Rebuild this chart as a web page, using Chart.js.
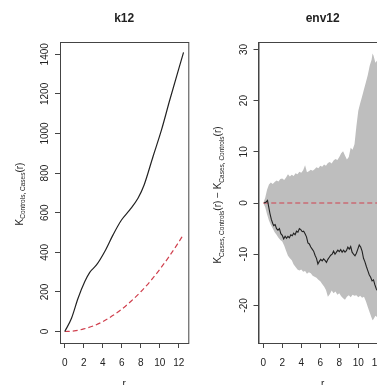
<!DOCTYPE html>
<html>
<head>
<meta charset="utf-8">
<script src="https://cdn.jsdelivr.net/npm/chart.js@4.4.1/dist/chart.umd.min.js"></script>
<style>
  html, body { margin: 0; padding: 0; background: #fff; overflow: hidden; }
  #wrap { position: relative; width: 377px; height: 385px; overflow: hidden; }
  canvas { position: absolute; top: 0; }
  #left { left: 0; }
  #right { left: 200px; }
</style>
</head>
<body>
<div id="wrap">
  <canvas id="left" width="200" height="385"></canvas>
  <canvas id="right" width="200" height="385"></canvas>
</div>
<script>
// k12: observed K and the theoretical one (dashed)
const kR = [0, 0.71, 1.40, 2.11, 2.63, 3.34, 4.21, 5.08, 5.97, 6.84, 7.72, 8.35, 9.29, 10.18, 11.05, 12.5];
const kObs = [0, 67, 168, 252, 299, 336, 404, 488, 563, 614, 674, 740, 884, 1018, 1169, 1410];
const theoR = [0, 1, 2, 3, 4, 5, 6, 7, 8, 9, 10, 11, 12, 12.5];
const theoK = [0, 3, 13, 28, 50, 79, 113, 154, 201, 254, 314, 380, 452, 491];

// env12: envelope (grey band), observed difference, zero line
const envR = [0, 0.2, 0.4, 0.6, 0.8, 1.0, 1.2, 1.4, 1.6, 1.8, 2.0, 2.2, 2.4, 2.6, 2.8, 3.0, 3.2, 3.4, 3.6, 3.8,
  4.0, 4.2, 4.4, 4.6, 4.8, 5.0, 5.2, 5.4, 5.6, 5.8, 6.0, 6.2, 6.4, 6.6, 6.8, 7.0, 7.2, 7.4, 7.6, 7.8,
  8.0, 8.2, 8.4, 8.6, 8.8, 9.0, 9.2, 9.4, 9.6, 9.8, 10.0, 10.2, 10.4, 10.6, 10.8, 11.0, 11.2, 11.4,
  11.5, 11.6, 11.8, 12.0, 12.2, 12.4, 12.5];
const envHi = [0, 1.0, 2.6, 3.6, 4.0, 3.7, 4.1, 4.4, 4.2, 4.7, 4.8, 4.5, 5.0, 5.6, 5.2, 5.5, 5.3, 5.8, 5.6, 6.1,
  5.9, 6.4, 7.4, 6.0, 6.2, 6.5, 6.3, 6.6, 7.0, 6.8, 7.3, 7.1, 7.5, 7.3, 7.8, 8.0, 7.7, 8.3, 8.6, 8.4,
  9.0, 9.7, 10.1, 9.3, 8.5, 9.0, 10.8, 10.4, 11.5, 15.0, 18.0, 19.5, 20.8, 22.2, 23.6, 25.0, 26.8, 28.0,
  29.2, 28.8, 27.4, 27.9, 27.6, 28.0, 28.3];
const envLo = [0, -0.8, -2.2, -3.4, -4.3, -5.0, -5.7, -6.2, -6.8, -7.2, -7.5, -8.3, -9.3, -10.3, -10.8, -11.2, -12.0, -12.5, -13.0, -13.2,
  -13.0, -13.4, -13.3, -13.8, -13.5, -13.7, -14.2, -14.4, -14.6, -15.0, -15.3, -15.8, -16.3, -17.0, -18.3, -17.8, -17.1, -17.6, -17.3, -17.9,
  -17.6, -18.2, -18.6, -18.9, -18.3, -18.0, -18.4, -17.9, -18.1, -18.0, -18.4, -18.1, -18.5, -18.3, -19.2, -20.3, -21.4, -22.4,
  -22.9, -22.7, -22.0, -22.3, -23.4, -24.3, -25.0];
const obsR = [0.1, 0.3, 0.45, 0.55, 0.7, 0.85, 1.0, 1.1, 1.25, 1.4, 1.55, 1.7, 1.85, 2.0, 2.15, 2.3, 2.45, 2.6, 2.75, 2.9,
  3.05, 3.2, 3.35, 3.5, 3.65, 3.8, 3.95, 4.1, 4.25, 4.4, 4.55, 4.7, 4.85, 5.0, 5.15, 5.3, 5.45, 5.6, 5.75, 5.9,
  6.05, 6.2, 6.35, 6.5, 6.65, 6.8, 6.95, 7.1, 7.25, 7.4, 7.55, 7.7, 7.85, 8.0, 8.15, 8.3, 8.45, 8.6, 8.75, 8.9,
  9.05, 9.2, 9.35, 9.5, 9.65, 9.8, 9.95, 10.1, 10.25, 10.4, 10.55, 10.7, 10.85, 11.0, 11.15, 11.3, 11.45, 11.6,
  11.75, 11.9, 12.05, 12.2, 12.35, 12.5];
const obsV = [0, 0.2, 0.5, -0.5, -2.0, -3.2, -4.0, -4.4, -4.2, -5.0, -5.3, -5.0, -6.0, -6.3, -7.0, -6.5, -6.9, -6.5, -6.8, -6.2,
  -6.4, -5.9, -6.2, -5.5, -5.7, -5.0, -5.2, -5.6, -5.5, -6.0, -6.6, -7.8, -8.0, -8.6, -9.0, -9.4, -10.2, -10.8, -11.9, -11.4,
  -11.0, -11.3, -10.9, -11.2, -11.6, -11.0, -10.6, -10.2, -10.0, -9.4, -10.0, -9.6, -9.2, -9.5, -9.1, -9.6, -9.2, -9.6, -9.3, -8.6,
  -9.0, -8.5, -9.6, -10.0, -10.3, -9.8, -9.0, -8.2, -8.6, -9.4, -10.8, -11.5, -12.4, -13.2, -14.0, -14.5, -15.2, -15.0,
  -16.0, -16.8, -17.2, -17.0, -17.6, -18.0];
const zeroR = [0, 12.5];
const zeroV = [0, 0];

const FONT = 'Liberation Sans';
const INK = '#222';
const AXIS = '#444';
const RED = '#d0404e';

function pts(xs, ys) {
  return xs.map((x, i) => ({ x: x, y: ys[i] }));
}

// box around plot region + y label with subscripts (R plotmath style)
const rBox = {
  id: 'rBox',
  afterDatasetsDraw(chart, args, opts) {
    const { ctx, chartArea: a } = chart;
    ctx.save();
    ctx.strokeStyle = AXIS;
    ctx.lineWidth = 1;
    ctx.strokeRect(a.left + 0.5, a.top + 0.5, a.right - a.left, a.bottom - a.top);

    const main = '10px "' + FONT + '"', sub = '6.5px "' + FONT + '"';
    let total = 0;
    const parts = opts.parts.map(p => {
      ctx.font = p.sub ? sub : main;
      const w = ctx.measureText(p.t).width;
      total += w;
      return { t: p.t, sub: p.sub, w: w };
    });
    ctx.translate(opts.x, opts.y);
    ctx.rotate(-Math.PI / 2);
    ctx.fillStyle = INK;
    ctx.textAlign = 'left';
    ctx.textBaseline = 'alphabetic';
    let cur = -total / 2;
    parts.forEach(p => {
      ctx.font = p.sub ? sub : main;
      ctx.fillText(p.t, cur, p.sub ? 2.5 : 0);
      cur += p.w;
    });
    ctx.restore();
  }
};

function makeScales(o) {
  const tickFont = { family: FONT, size: 10 };
  return {
    x: {
      type: 'linear', min: -0.5, max: 13,
      ticks: { stepSize: 2, includeBounds: false, maxRotation: 0, font: tickFont, color: INK, padding: 9 },
      grid: { drawOnChartArea: false, tickLength: 5, color: AXIS },
      border: { color: AXIS },
      title: { display: true, text: 'r', font: tickFont, color: INK, padding: { top: 0, bottom: -5 } },
      afterFit: s => { s.height = 42; }
    },
    top: {
      type: 'linear', position: 'top', min: -0.5, max: 13,
      ticks: { display: false },
      grid: { display: false },
      border: { display: false },
      title: { display: true, text: o.title, font: { family: FONT, size: 12, weight: 'bold' }, color: INK, padding: { top: 11, bottom: 0 } },
      afterFit: s => { s.height = 42; }
    },
    y: {
      type: 'linear', min: o.yMin, max: o.yMax,
      ticks: {
        stepSize: o.yStep, includeBounds: false, minRotation: 90, maxRotation: 90,
        crossAlign: 'center', padding: o.yPad, font: tickFont, color: INK,
        callback: v => String(v)
      },
      grid: { drawOnChartArea: false, tickLength: 5, color: AXIS },
      border: { color: AXIS },
      afterFit: s => { s.width = o.yWidth; }
    }
  };
}

new Chart(document.getElementById('left'), {
  type: 'line',
  data: {
    datasets: [
      { data: pts(kR, kObs), borderColor: INK, borderWidth: 1.2, pointRadius: 0, cubicInterpolationMode: 'monotone', order: 0 },
      { data: pts(theoR, theoK), borderColor: RED, borderWidth: 1.2, borderDash: [5, 3], pointRadius: 0, cubicInterpolationMode: 'monotone', order: 1 }
    ]
  },
  options: {
    responsive: false,
    animation: false,
    layout: { padding: { left: 0, right: 11.7, top: 0, bottom: 0 } },
    scales: makeScales({ title: 'k12', yMin: -58, yMax: 1462, yStep: 200, yPad: -1, yWidth: 60 }),
    plugins: {
      legend: { display: false },
      tooltip: { enabled: false },
      rBox: { x: 22.5, y: 194, parts: [{ t: 'K' }, { t: 'Controls, Cases', sub: true }, { t: '(r)' }] }
    }
  },
  plugins: [rBox]
});

new Chart(document.getElementById('right'), {
  type: 'line',
  data: {
    datasets: [
      { data: pts(envR, envHi), borderWidth: 0, borderColor: 'rgba(0,0,0,0)', backgroundColor: '#bebebe', fill: '+1', pointRadius: 0, tension: 0, order: 3 },
      { data: pts(envR, envLo), borderWidth: 0, borderColor: 'rgba(0,0,0,0)', fill: false, pointRadius: 0, tension: 0, order: 2 },
      { data: pts(zeroR, zeroV), borderColor: RED, borderWidth: 1.2, borderDash: [5, 3], pointRadius: 0, order: 1 },
      { data: pts(obsR, obsV), borderColor: INK, borderWidth: 1.1, pointRadius: 0, tension: 0, order: 0 }
    ]
  },
  options: {
    responsive: false,
    animation: false,
    layout: { padding: { left: 0, right: 13.2, top: 0, bottom: 0 } },
    scales: makeScales({ title: 'env12', yMin: -27.34, yMax: 31.45, yStep: 10, yPad: 2.3, yWidth: 58.5 }),
    plugins: {
      legend: { display: false },
      tooltip: { enabled: false },
      rBox: {
        x: 21, y: 195,
        parts: [{ t: 'K' }, { t: 'Cases, Controls', sub: true }, { t: '(r) \u2212 K' }, { t: 'Cases, Controls', sub: true }, { t: '(r)' }]
      }
    }
  },
  plugins: [rBox]
});
</script>
</body>
</html>
